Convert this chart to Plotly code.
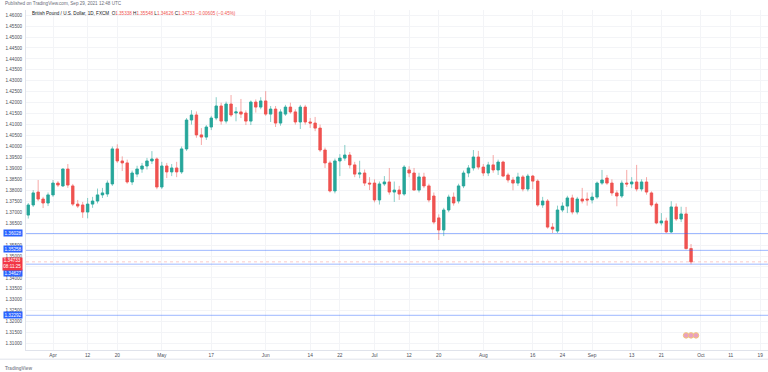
import plotly.graph_objects as go

dates = ["2021-03-25","2021-03-26","2021-03-29","2021-03-30","2021-03-31","2021-04-01","2021-04-02",
"2021-04-05","2021-04-06","2021-04-07","2021-04-08","2021-04-09","2021-04-12","2021-04-13","2021-04-14",
"2021-04-15","2021-04-16","2021-04-19","2021-04-20","2021-04-21","2021-04-22","2021-04-23","2021-04-26",
"2021-04-27","2021-04-28","2021-04-29","2021-04-30","2021-05-03","2021-05-04","2021-05-05","2021-05-06",
"2021-05-07","2021-05-10","2021-05-11","2021-05-12","2021-05-13","2021-05-14","2021-05-17","2021-05-18",
"2021-05-19","2021-05-20","2021-05-21","2021-05-24","2021-05-25","2021-05-26","2021-05-27","2021-05-28",
"2021-05-31","2021-06-01","2021-06-02","2021-06-03","2021-06-04","2021-06-07","2021-06-08","2021-06-09",
"2021-06-10","2021-06-11","2021-06-14","2021-06-15","2021-06-16","2021-06-17","2021-06-18","2021-06-21",
"2021-06-22","2021-06-23","2021-06-24","2021-06-25","2021-06-28","2021-06-29","2021-06-30","2021-07-01",
"2021-07-02","2021-07-05","2021-07-06","2021-07-07","2021-07-08","2021-07-09","2021-07-12","2021-07-13",
"2021-07-14","2021-07-15","2021-07-16","2021-07-19","2021-07-20","2021-07-21","2021-07-22","2021-07-23",
"2021-07-26","2021-07-27","2021-07-28","2021-07-29","2021-07-30","2021-08-02","2021-08-03","2021-08-04",
"2021-08-05","2021-08-06","2021-08-09","2021-08-10","2021-08-11","2021-08-12","2021-08-13","2021-08-16",
"2021-08-17","2021-08-18","2021-08-19","2021-08-20","2021-08-23","2021-08-24","2021-08-25","2021-08-26",
"2021-08-27","2021-08-30","2021-08-31","2021-09-01","2021-09-02","2021-09-03","2021-09-06","2021-09-07",
"2021-09-08","2021-09-09","2021-09-10","2021-09-13","2021-09-14","2021-09-15","2021-09-16","2021-09-17",
"2021-09-20","2021-09-21","2021-09-22","2021-09-23","2021-09-24","2021-09-27","2021-09-28","2021-09-29"]

open_ = [1.3687,1.3733,1.3792,1.3760,1.3742,1.3779,1.3833,
1.3820,1.3897,1.3820,1.3737,1.3733,1.3701,1.3737,1.3751,
1.3779,1.3783,1.3829,1.3989,1.3934,1.3925,1.3838,1.3874,
1.3897,1.3911,1.3934,1.3943,1.3815,1.3911,1.3884,1.3902,
1.3884,1.3989,1.4121,1.4144,1.4053,1.4043,1.4089,1.4130,
1.4185,1.4116,1.4194,1.4153,1.4158,1.4153,1.4116,1.4203,
1.4180,1.4208,1.4148,1.4171,1.4107,1.4148,1.4180,1.4158,
1.4112,1.4180,1.4112,1.4107,1.4084,1.3984,1.3925,1.3797,
1.3934,1.3947,1.3961,1.3916,1.3874,1.3879,1.3833,1.3833,
1.3756,1.3829,1.3838,1.3792,1.3801,1.3783,1.3893,1.3879,
1.3801,1.3861,1.3820,1.3774,1.3674,1.3619,1.3710,1.3769,
1.3751,1.3820,1.3879,1.3902,1.3952,1.3906,1.3879,1.3916,
1.3893,1.3929,1.3870,1.3847,1.3833,1.3861,1.3806,1.3865,
1.3842,1.3733,1.3751,1.3632,1.3614,1.3710,1.3728,1.3765,
1.3701,1.3760,1.3760,1.3756,1.3769,1.3833,1.3856,1.3833,
1.3788,1.3774,1.3833,1.3829,1.3838,1.3806,1.3838,1.3788,
1.3737,1.3651,1.3660,1.3610,1.3724,1.3669,1.3692,1.35338]

high = [1.3742,1.3801,1.3847,1.3770,1.3790,1.3847,1.3842,
1.3900,1.3920,1.3829,1.3756,1.3747,1.3765,1.3770,1.3808,
1.3811,1.3845,1.4000,1.4010,1.3955,1.3940,1.3890,1.3912,
1.3925,1.3948,1.3979,1.3950,1.3930,1.3925,1.3920,1.3930,
1.4000,1.4130,1.4166,1.4160,1.4084,1.4098,1.4140,1.4225,
1.4200,1.4205,1.4235,1.4180,1.4217,1.4165,1.4210,1.4215,
1.4225,1.4253,1.4185,1.4185,1.4170,1.4190,1.4200,1.4170,
1.4190,1.4190,1.4130,1.4135,1.4100,1.3995,1.3935,1.3945,
1.3965,1.4007,1.3975,1.3930,1.3935,1.3895,1.3860,1.3850,
1.3840,1.3865,1.3902,1.3840,1.3820,1.3915,1.3910,1.3902,
1.3880,1.3880,1.3830,1.3790,1.3690,1.3720,1.3780,1.3790,
1.3830,1.3890,1.3915,1.3984,1.3980,1.3920,1.3930,1.3961,
1.3940,1.3935,1.3880,1.3860,1.3880,1.3870,1.3875,1.3870,
1.3850,1.3770,1.3760,1.3650,1.3730,1.3745,1.3775,1.3780,
1.3770,1.3811,1.3790,1.3790,1.3840,1.3893,1.3870,1.3850,
1.3800,1.3845,1.3893,1.3860,1.3916,1.3850,1.3860,1.3795,
1.3745,1.3696,1.3675,1.3750,1.3740,1.3725,1.3724,1.35548]

low = [1.3671,1.3724,1.3751,1.3719,1.3728,1.3770,1.3815,
1.3815,1.3811,1.3728,1.3719,1.3674,1.3672,1.3720,1.3740,
1.3765,1.3770,1.3820,1.3925,1.3888,1.3830,1.3824,1.3860,
1.3880,1.3895,1.3920,1.3805,1.3806,1.3856,1.3865,1.3860,
1.3875,1.3980,1.4100,1.4040,1.4007,1.4030,1.4075,1.4120,
1.4100,1.4105,1.4135,1.4115,1.4130,1.4098,1.4098,1.4155,
1.4170,1.4140,1.4112,1.4089,1.4095,1.4140,1.4150,1.4100,
1.4080,1.4100,1.4085,1.4070,1.3975,1.3902,1.3790,1.3786,
1.3865,1.3935,1.3900,1.3860,1.3855,1.3820,1.3801,1.3745,
1.3735,1.3820,1.3780,1.3747,1.3756,1.3775,1.3860,1.3800,
1.3790,1.3810,1.3745,1.3645,1.3573,1.3591,1.3700,1.3730,
1.3740,1.3810,1.3860,1.3890,1.3895,1.3865,1.3865,1.3880,
1.3870,1.3860,1.3835,1.3800,1.3820,1.3795,1.3795,1.3805,
1.3725,1.3720,1.3625,1.3605,1.3605,1.3700,1.3696,1.3690,
1.3690,1.3740,1.3730,1.3740,1.3760,1.3825,1.3825,1.3775,
1.3727,1.3765,1.3815,1.3810,1.3795,1.3795,1.3780,1.3725,
1.3645,1.3640,1.3605,1.3605,1.3660,1.3655,1.3530,1.34626]

close = [1.3733,1.3788,1.3760,1.3742,1.3779,1.3833,1.3824,
1.3897,1.3824,1.3737,1.3728,1.3701,1.3737,1.3751,1.3779,
1.3788,1.3833,1.3989,1.3934,1.3925,1.3838,1.3879,1.3897,
1.3911,1.3934,1.3943,1.3815,1.3911,1.3884,1.3902,1.3884,
1.3989,1.4121,1.4144,1.4053,1.4043,1.4089,1.4130,1.4185,
1.4116,1.4194,1.4144,1.4158,1.4148,1.4116,1.4203,1.4180,
1.4208,1.4148,1.4171,1.4107,1.4158,1.4180,1.4158,1.4112,
1.4180,1.4112,1.4107,1.4084,1.3984,1.3925,1.3797,1.3934,
1.3947,1.3961,1.3916,1.3874,1.3879,1.3833,1.3829,1.3756,
1.3829,1.3838,1.3792,1.3801,1.3783,1.3906,1.3879,1.3801,
1.3861,1.3820,1.3756,1.3655,1.3619,1.3710,1.3769,1.3742,
1.3820,1.3879,1.3902,1.3952,1.3906,1.3879,1.3916,1.3893,
1.3929,1.3865,1.3847,1.3833,1.3861,1.3806,1.3865,1.3842,
1.3733,1.3751,1.3632,1.3623,1.3710,1.3728,1.3765,1.3701,
1.3760,1.3751,1.3756,1.3769,1.3833,1.3847,1.3833,1.3788,
1.3774,1.3833,1.3829,1.3838,1.3806,1.3838,1.3792,1.3733,
1.3651,1.3660,1.3610,1.3724,1.3669,1.3692,1.35338,1.34733]

price_levels = [1.36028, 1.35258, 1.34627, 1.32292]
level_labels = ["1.36028", "1.35258", "1.34627", "1.32292"]
level_label_shift = [0, 1, -9, 0]
last_price = 1.34733
last_label = "1.34733<br>08:11:25"

y_ticks = [1.310, 1.315, 1.320, 1.325, 1.330, 1.335, 1.340, 1.345, 1.350, 1.355, 1.360, 1.365,
           1.370, 1.375, 1.380, 1.385, 1.390, 1.395, 1.400, 1.405, 1.410, 1.415, 1.420, 1.425,
           1.430, 1.435, 1.440, 1.445, 1.450, 1.455, 1.460]
y_hidden = [1.345, 1.360]

tick_dates = ["2021-04-01","2021-04-12","2021-04-20","2021-05-03","2021-05-17","2021-06-01",
"2021-06-14","2021-06-22","2021-07-01","2021-07-12","2021-07-20","2021-08-02","2021-08-16",
"2021-08-24","2021-09-01","2021-09-13","2021-09-21","2021-10-01","2021-10-11","2021-10-19"]
tick_text = ["Apr","12","20","May","17","Jun","14","22","Jul","12","20","Aug","16","24",
"Sep","13","21","Oct","11","19"]

event_dates = ["2021-09-28", "2021-09-29", "2021-09-30"]

UP = "#26a69a"
DOWN = "#ef5350"
UP_W = "rgba(38,166,154,0.55)"
DOWN_W = "rgba(239,83,80,0.5)"
FONT = "Arial, Liberation Sans, sans-serif"

fig = go.Figure()
# wicks (full range, light colour)
fig.add_trace(go.Candlestick(
    x=dates, open=open_, high=high, low=low, close=close,
    increasing=dict(line=dict(color=UP_W, width=1), fillcolor=UP_W),
    decreasing=dict(line=dict(color=DOWN_W, width=1), fillcolor=DOWN_W),
    hoverinfo="skip", showlegend=False))
# bodies
body_hi = [max(o, c) for o, c in zip(open_, close)]
body_lo = [min(o, c) for o, c in zip(open_, close)]
fig.add_trace(go.Candlestick(
    x=dates, open=open_, high=body_hi, low=body_lo, close=close,
    increasing=dict(line=dict(color=UP, width=0.5), fillcolor=UP),
    decreasing=dict(line=dict(color=DOWN, width=0.5), fillcolor=DOWN),
    showlegend=False))
# event markers at the bottom of the pane
fig.add_trace(go.Scatter(
    x=event_dates, y=[0.043] * len(event_dates), yaxis="y2", mode="markers",
    marker=dict(size=5.5, color="#e9a0c0", line=dict(color="#f3c47a", width=1)),
    hoverinfo="skip", showlegend=False))

shapes = []
for v in price_levels:
    shapes.append(dict(type="line", xref="paper", x0=0, x1=1, yref="y", y0=v, y1=v,
                       line=dict(color="rgba(41,98,255,0.45)", width=1)))
shapes.append(dict(type="line", xref="paper", x0=0, x1=1, yref="y", y0=last_price, y1=last_price,
                   line=dict(color="rgba(239,83,80,0.3)", width=1, dash="dot")))
# time axis bottom border
shapes.append(dict(type="line", xref="paper", x0=-0.04, x1=1, yref="paper", y0=-0.027, y1=-0.027,
                   line=dict(color="#e0e3eb", width=1)))

annotations = []
for v, t, s in zip(price_levels, level_labels, level_label_shift):
    annotations.append(dict(xref="paper", x=-0.0035, xanchor="right", yref="y", y=v, yanchor="middle",
                            yshift=s, text=t, showarrow=False, bgcolor="#2962ff", borderpad=0.5,
                            font=dict(size=4.6, color="white", family=FONT)))
annotations.append(dict(xref="paper", x=-0.0035, xanchor="right", yref="y", y=last_price, yanchor="middle",
                        yshift=-2, text=last_label, showarrow=False, bgcolor="#f23645", borderpad=0.3,
                        font=dict(size=4.6, color="white", family=FONT)))
annotations.append(dict(xref="paper", x=-0.0305, xanchor="left", yref="paper", y=1.0, yanchor="bottom",
                        yshift=2, text="Published on TradingView.com, Sep 29, 2021 12:48 UTC", showarrow=False,
                        font=dict(size=4.6, color="#6a6d78", family=FONT)))
annotations.append(dict(xref="paper", x=0.005, xanchor="left", yref="paper", y=0.989, yanchor="middle",
                        text=("British Pound / U.S. Dollar, 1D, FXCM  "
                              "O<span style='color:#ef5350'>1.35338</span> "
                              "H<span style='color:#ef5350'>1.35548</span> "
                              "L<span style='color:#ef5350'>1.34626</span> "
                              "C<span style='color:#ef5350'>1.34733</span> "
                              "<span style='color:#ef5350'>\u22120.00605 (\u22120.45%)</span>"),
                        showarrow=False, font=dict(size=4.6, color="#131722", family=FONT)))
annotations.append(dict(xref="paper", x=-0.031, xanchor="left", yref="paper", y=-0.04, yanchor="top",
                        text="<b>TradingView</b>", showarrow=False,
                        font=dict(size=4.6, color="#8a8d96", family=FONT)))

fig.update_layout(
    width=768, height=372,
    margin=dict(l=26, r=0, t=10, b=22),
    paper_bgcolor="white", plot_bgcolor="white",
    showlegend=False,
    shapes=shapes, annotations=annotations,
    font=dict(family=FONT, size=4.6, color="#131722"),
    xaxis=dict(
        type="date",
        range=["2021-03-24 13:00", "2021-10-20 13:27"],
        rangebreaks=[dict(bounds=["sat", "mon"])],
        rangeslider=dict(visible=False),
        tickmode="array", tickvals=tick_dates, ticktext=tick_text,
        showgrid=True, gridcolor="#f3f4f7", gridwidth=1,
        showline=True, linecolor="#e0e3eb", linewidth=1,
        ticks="", tickfont=dict(size=4.8, color="#4a4d57"),
        zeroline=False, fixedrange=True,
    ),
    yaxis=dict(
        side="left",
        range=[1.30708, 1.46233],
        tickmode="array", tickvals=y_ticks,
        ticktext=["" if any(abs(t - h) < 1e-9 for h in y_hidden) else f"{t:.5f}" for t in y_ticks],
        showgrid=True, gridcolor="#f3f4f7", gridwidth=1,
        showline=True, linecolor="#e0e3eb", linewidth=1,
        ticks="", ticklabelstandoff=2,
        tickfont=dict(size=4.6, color="#4a4d57"),
        zeroline=False, fixedrange=True,
    ),
    yaxis2=dict(overlaying="y", range=[0, 1], visible=False, fixedrange=True),
    hovermode=False,
)

fig.write_html("out.html", config={"displayModeBar": False, "staticPlot": True},
               post_script="document.body.style.margin='0';document.body.style.overflow='hidden';")
